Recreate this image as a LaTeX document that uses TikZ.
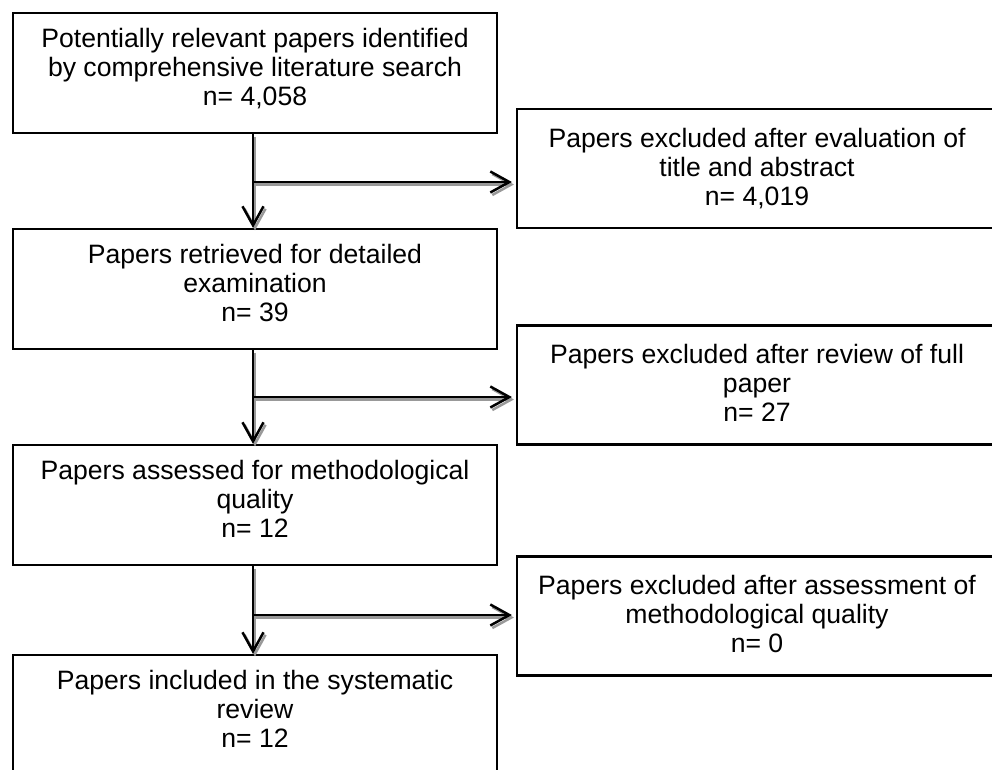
\documentclass[tikz,border=0pt]{standalone}
\usepackage{fontspec}
\setmainfont{Liberation Sans}
\usetikzlibrary{arrows.meta}
\newcommand\myflows{%
  \draw[flow] ([xshift=-2pt]b1.south) -- ([xshift=-2pt]b2.north);
  \draw[flow] ([xshift=-2pt]b2.south) -- ([xshift=-2pt]b3.north);
  \draw[flow] ([xshift=-2pt]b3.south) -- ([xshift=-2pt]b4.north);
  \draw[flow, shorten >=4pt] (j1) -- (j1 -| r1.west);
  \draw[flow, shorten >=4pt] (j2) -- (j2 -| r2.west);
  \draw[flow, shorten >=4pt] (j3) -- (j3 -| r3.west);
}
\begin{document}
\begin{tikzpicture}[x=1pt,y=-1pt,
  box/.style={draw=black, line width=2.2pt, minimum width=484pt, minimum height=120pt,
    inner sep=0pt, align=center, font=\fontsize{26.6pt}{29pt}\selectfont, text depth=12pt},
  rbox/.style={box, minimum width=480pt, minimum height=119pt, text depth=4pt},
  flow/.style={line width=2.5pt, -{Straight Barb[length=19pt,width=21pt]}}]
\useasboundingbox (0,0) rectangle (992,769);
\clip (0,0) rectangle (992,769);
\fill[white] (0,0) rectangle (992,769);

\node[box] (b1) at (255,73) {Potentially relevant papers identified\\by comprehensive literature search\\n= 4,058};
\node[box] (b2) at (255,289) {Papers retrieved for detailed\\examination\\n= 39};
\node[box] (b3) at (255,505) {Papers assessed for methodological\\quality\\n= 12};
\node[box] (b4) at (255,715) {Papers included in the systematic\\review\\n= 12};

\node[rbox] (r1) at (757,168.5) {Papers excluded after evaluation of\\title and abstract\\n= 4,019};
\node[rbox] (r2) at (757,385) {Papers excluded after review of full\\paper\\n= 27};
\node[rbox] (r3) at (757,616) {Papers excluded after assessment of\\methodological quality\\n= 0};

\coordinate (j1) at (253,182);
\coordinate (j2) at (253,397);
\coordinate (j3) at (253,615);

\begin{scope}[transform canvas={shift={(2pt,-2.5pt)}}, color=black!40]
  \myflows
\end{scope}
\begin{scope}[color=black]
  \myflows
\end{scope}
\end{tikzpicture}
\end{document}
